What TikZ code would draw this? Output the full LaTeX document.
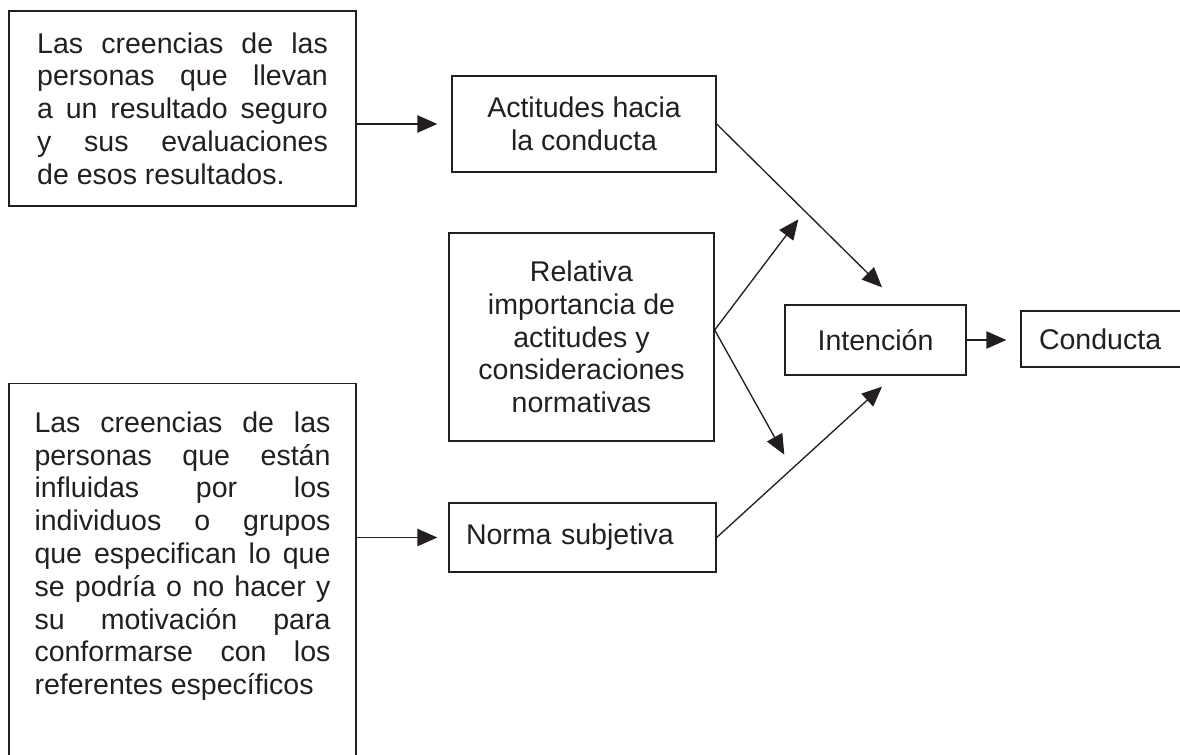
\documentclass[tikz,border=0pt]{standalone}
\usepackage{fontspec}
\setmainfont{Liberation Sans}
\usetikzlibrary{arrows.meta,calc}
\definecolor{ink}{RGB}{35,31,32}
\tikzset{
  caja/.style={draw=ink, line width=1pt, inner sep=0pt, text=ink},
  flecha/.style={draw=ink, line width=1pt, -{Triangle[length=15pt,width=13pt]}},
}

\begin{document}
\begin{tikzpicture}[x=0.75pt, y=-0.75pt, font=\fontsize{21.4}{24.6}\selectfont]
\useasboundingbox (0,0) rectangle (1180,755);
\clip (0,0) rectangle (1180,755);

% Creencias (columna izquierda)
\node[caja, minimum width=260.25pt, minimum height=146.25pt, text width=218pt, align=justify] (creen1) at (182.5,108.5)
  {Las creencias de las\linebreak personas que llevan\linebreak a un resultado seguro\linebreak y sus evaluaciones\linebreak de esos resultados.};
\node[caja, anchor=north, minimum width=260.25pt, inner ysep=21pt, text width=222pt, text depth=250pt, align=justify] (creen2) at (182.5,383)
  {Las creencias de las\linebreak personas que están\linebreak influidas por los\linebreak individuos o grupos\linebreak que especifican lo que\linebreak se podría o no hacer y\linebreak su motivación para\linebreak conformarse con los\linebreak referentes específicos};

% Columna central
\node[caja, minimum width=198pt, minimum height=72pt, align=center] (actit) at (584,124) {Actitudes hacia\\la conducta};
\node[caja, minimum width=198.75pt, minimum height=156pt, align=center] (relat) at (581.5,337)
  {Relativa\\importancia de\\actitudes y\\consideraciones\\normativas};
\node[caja, minimum height=51.75pt, inner xsep=12.75pt, text width=174.75pt, align=left] (norma) at (582.5,537.5) {Norma subjetiva};

% Derecha
\node[caja, minimum width=135.75pt, minimum height=52.5pt] (intenc) at (875.5,340) {Intención};
\node[caja, minimum height=42pt, inner xsep=13.5pt, text width=123pt, align=left] (cond) at (1121,339) {Conducta};

% Flechas
\draw[flecha, shorten >=10.5pt] (creen1.east |- actit.west) -- (actit.west);
\draw[flecha, shorten >=8.25pt] (creen2.east |- norma.west) -- (norma.west);
\draw[flecha] (actit.east) -- ([shift={(6.5,-17)}]intenc.north);
\draw[flecha] (norma.east) -- ([shift={(6.5,11)}]intenc.south);
\draw[flecha] ([shift={(0,-7)}]relat.east) -- ([shift={(14,-85)}]intenc.north west);
\draw[flecha] ([shift={(0,-7)}]relat.east) -- ([shift={(0,79)}]intenc.south west);
\draw[flecha, shorten >=10.5pt] (intenc.east) -- (intenc.east -| cond.west);
\end{tikzpicture}
\end{document}
